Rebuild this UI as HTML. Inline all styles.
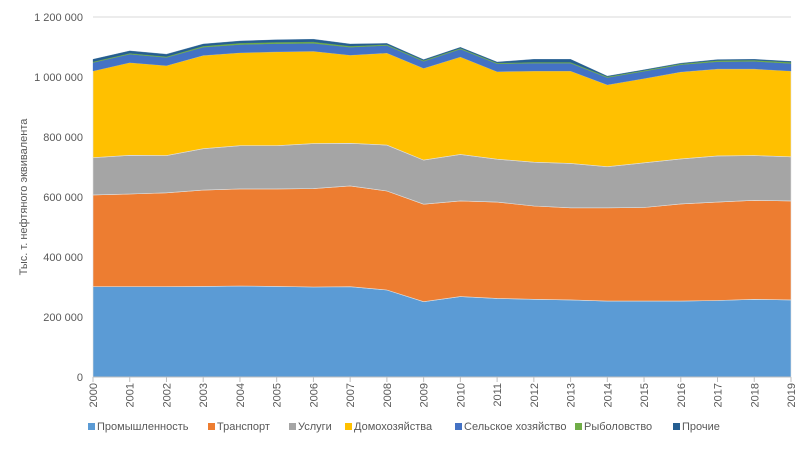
<!DOCTYPE html>
<html><head><meta charset="utf-8">
<style>
body{margin:0;background:#fff;font-family:"Liberation Sans","Noto Sans CJK SC",sans-serif;}
svg text{font-family:"Liberation Sans","Noto Sans CJK SC",sans-serif;fill:#595959;}
</style></head>
<body>
<svg id="chart" width="808" height="447" xmlns="http://www.w3.org/2000/svg">
<g id="grid"></g>
<g id="areas"></g>
<g id="yaxis"></g>
<g id="xaxis"></g>
<text transform="translate(27,197) rotate(-90)" text-anchor="middle" font-size="11">Тыс. т. нефтяного эквивалента</text>
<g id="legend"></g>
</svg>
<script>
const years = [2000,2001,2002,2003,2004,2005,2006,2007,2008,2009,2010,2011,2012,2013,2014,2015,2016,2017,2018,2019];
const seriesNames = ["Промышленность","Транспорт","Услуги","Домохозяйства","Сельское хозяйство","Рыболовство","Прочие"];
const industry   = [301,301,301,302,303,302,300,301,290,251,268,262,259,257,253,253,253,255,259,257];
const transport  = [306,309,313,321,324,325,328,336,330,325,319,321,311,307,311,312,324,328,330,330];
const services   = [124,129,124,138,144,144,150,142,153,147,155,143,146,148,137,149,150,154,149,147];
const households = [289,309,300,311,310,313,308,294,307,306,325,292,304,308,273,281,290,290,289,286];
const agriculture= [28,28,27,27,27,27,26,26,25,23,26,26,26,26,24,24,24,24,25,25];
const fishing    = [3,3,3,4,5,5,5,4,3,3,3,3,3,3,3,3,3,4,4,4];
const others     = [8,8,8,7,7,8,9,7,4,3,3,3,10,10,2,2,2,3,3,3];
const yTicks = [0,200,400,600,800,1000,1200];
const yTickLabels = ["0","200 000","400 000","600 000","800 000","1 000 000","1 200 000"];
const colors = ["#5B9BD5","#ED7D31","#A5A5A5","#FFC000","#4472C4","#70AD47","#255E91"];

const X0=93, X1=791, Y0=377, Y1=17, YMAX=1200;
const xs = i => X0 + (X1-X0)*i/(years.length-1);
const ys = v => Y0 - (Y0-Y1)*v/YMAX;
const NS="http://www.w3.org/2000/svg";
function mk(tag, attrs, parent){const e=document.createElementNS(NS,tag);for(const k in attrs)e.setAttribute(k,attrs[k]);parent.appendChild(e);return e;}

const grid=document.getElementById('grid'), yaxis=document.getElementById('yaxis');
yTicks.forEach((t,i)=>{
  const l=mk('line',{x1:X0,x2:X1,y1:ys(t),y2:ys(t),stroke:'#d9d9d9','stroke-width':1},grid);
  
  
  const tx=mk('text',{x:X0-10,y:ys(t)+4,'text-anchor':'end','font-size':11},yaxis);
  tx.textContent=yTickLabels[i];
  
  
});

const all=[industry,transport,services,households,agriculture,fishing,others];
const areas=document.getElementById('areas');
let base=years.map(()=>0);
all.forEach((s,si)=>{
  const top=base.map((b,i)=>b+s[i]);
  let d='M'+years.map((y,i)=>xs(i)+','+ys(top[i])).join(' L');
  for(let i=years.length-1;i>=0;i--) d+=' L'+xs(i)+','+ys(base[i]);
  d+=' Z';
  const p=mk('path',{d:d,fill:colors[si],stroke:si<4?'#e0e0e0':colors[si],'stroke-width':si<4?0.6:0.3},areas);
  
  
  base=top;
});

const xaxis=document.getElementById('xaxis');
mk('line',{x1:X0,x2:X1,y1:Y0,y2:Y0,stroke:'#bfbfbf'},xaxis);
years.forEach((y,i)=>{
  mk('line',{x1:xs(i),x2:xs(i),y1:Y0,y2:Y0+5,stroke:'#bfbfbf'},xaxis);
  const t=mk('text',{transform:`translate(${xs(i)+4},${Y0+6}) rotate(-90)`,'text-anchor':'end','font-size':11},xaxis);
  t.textContent=y;
  
  
});

const legend=document.getElementById('legend');
const lx=[88,208,289,345,455,575,673];
seriesNames.forEach((n,i)=>{
  const g=mk('g',{},legend);
  
  
  mk('rect',{x:lx[i],y:423,width:7,height:7,fill:colors[i]},g);
  const t=mk('text',{x:lx[i]+9,y:430,'font-size':11},g);
  t.textContent=n;
});
</script>
</body></html>
